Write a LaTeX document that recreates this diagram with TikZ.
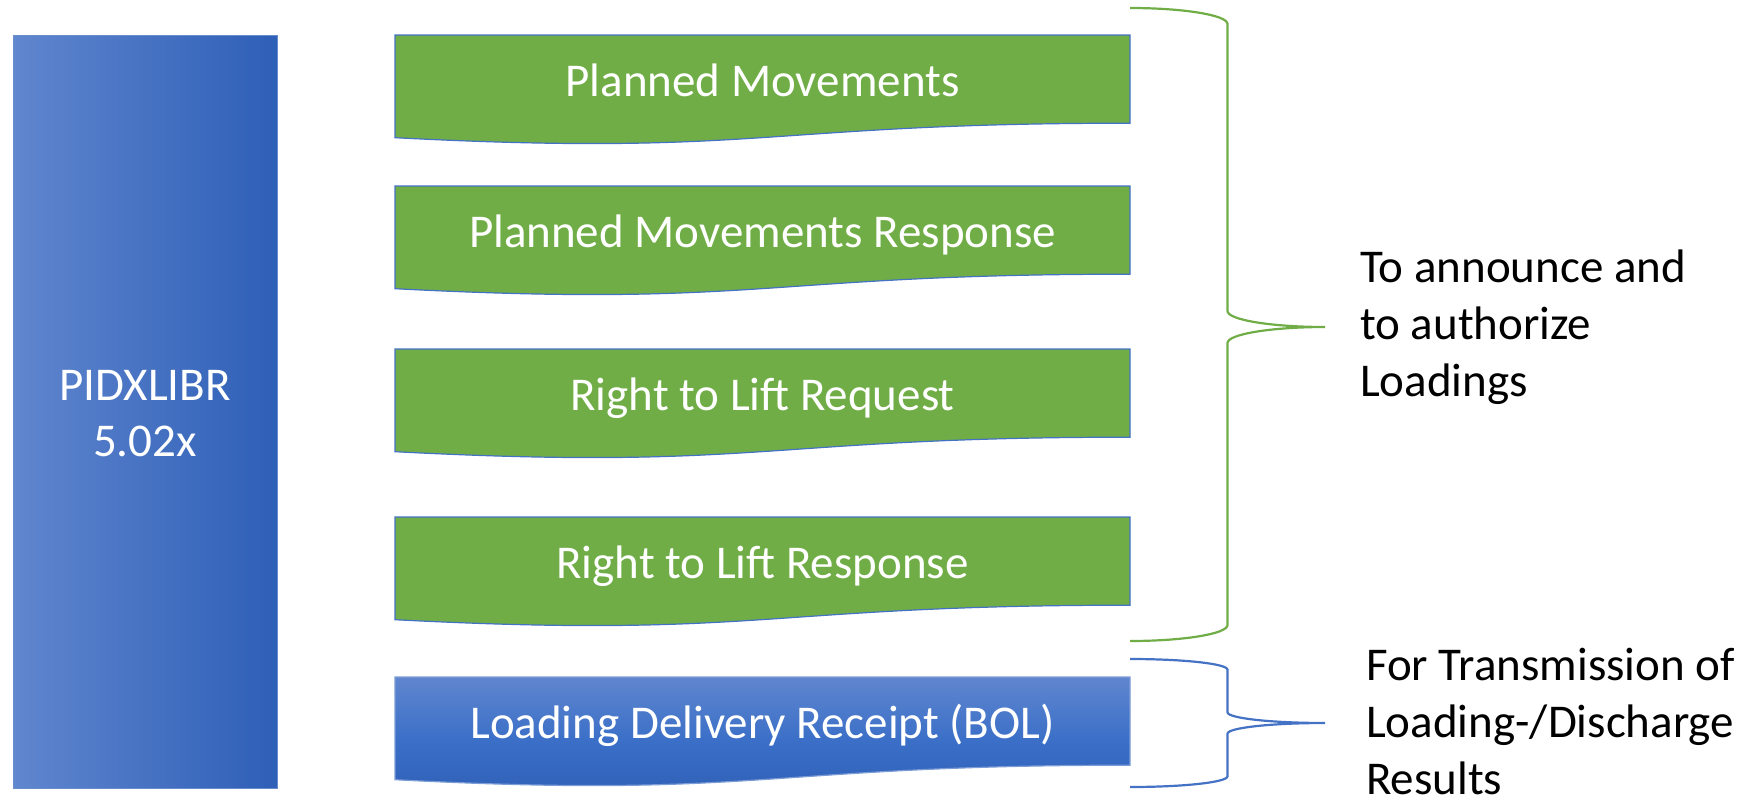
\documentclass[tikz,border=0pt]{standalone}
\usepackage{fontspec}
\setmainfont{Carlito}
\definecolor{docgreen}{RGB}{112,173,71}
\definecolor{docblue}{RGB}{68,114,196}
\definecolor{gradlight}{RGB}{96,134,206}
\definecolor{gradmid}{RGB}{60,112,200}
\definecolor{graddark}{RGB}{46,95,183}
\tikzset{
  boxtext/.style={text=white, font=\fontsize{47}{56}\selectfont, inner sep=0pt, anchor=base},
  sidetext/.style={text=black, font=\fontsize{47}{57}\selectfont, inner sep=0pt, align=left, anchor=base west},
  docoutline/.style={draw=docblue, line width=1.2pt},
  bracegreen/.style={draw=docgreen, line width=2.2pt},
  braceblue/.style={draw=docblue, line width=2.2pt},
}
% document shape: #1 = top y
\newcommand{\docpath}[1]{(395,#1) -- (1130,#1) -- (1130,#1+88.2) .. controls (762.5,#1+88.2) and (762.5,#1+121.8) .. (395,#1+102.7) -- cycle}
% brace: #1 top, #2 tip, #3 bottom, #4 curl radius
\newcommand{\bracepath}[4]{(1130,#1) .. controls (1183.8,#1) and (1227.5,#1+0.448*#4) .. (1227.5,#1+#4)
  -- (1227.5,#2-#4) .. controls (1227.5,#2-0.448*#4) and (1271.2,#2) .. (1325,#2)
  .. controls (1271.2,#2) and (1227.5,#2+0.448*#4) .. (1227.5,#2+#4)
  -- (1227.5,#3-#4) .. controls (1227.5,#3-0.448*#4) and (1183.8,#3) .. (1130,#3)}
\begin{document}
\begin{tikzpicture}[x=1pt,y=-1pt]
\useasboundingbox (0,0) rectangle (1757,803);
% left bar
\shade[left color=gradlight, middle color=gradmid, right color=graddark] (13,35) rectangle (277,788);
\draw[draw=docblue!80!white, line width=1pt] (13,35) rectangle (277,788);
\node[boxtext, align=center] (pidx) at (145,456) {PIDXLIBR\\5.02x};
% green documents
\path[fill=docgreen, docoutline] \docpath{35};
\node[boxtext] (pm) at (762.5,96) {Planned Movements};
\path[fill=docgreen, docoutline] \docpath{186};
\node[boxtext] (pmr) at (762.5,247) {Planned Movements Response};
\path[fill=docgreen, docoutline] \docpath{349};
\node[boxtext] (rtlq) at (762.5,410) {Right to Lift Request};
\path[fill=docgreen, docoutline] \docpath{517};
\node[boxtext] (rtlr) at (762.5,578) {Right to Lift Response};
% blue document
\shade[top color=gradlight, bottom color=graddark, middle color=gradmid] \docpath{677};
\draw[docoutline, draw=docblue!70!white] \docpath{677};
\node[boxtext] (ldr) at (762.5,738) {Loading Delivery Receipt (BOL)};
% braces
\draw[bracegreen] \bracepath{8}{327}{641}{16};
\coordinate (tipa) at (1325,327);
\draw[braceblue] \bracepath{659}{723}{787}{10.7};
\coordinate (tipb) at (1325,723);
% side texts (base anchor = baseline of last line)
\node[sidetext] (annc) at (1360,396) {To announce and\\to authorize\\Loadings};
\node[sidetext] (trans) at (1366,794) {For Transmission of\\Loading-/Discharge\\Results};
\end{tikzpicture}
\end{document}
